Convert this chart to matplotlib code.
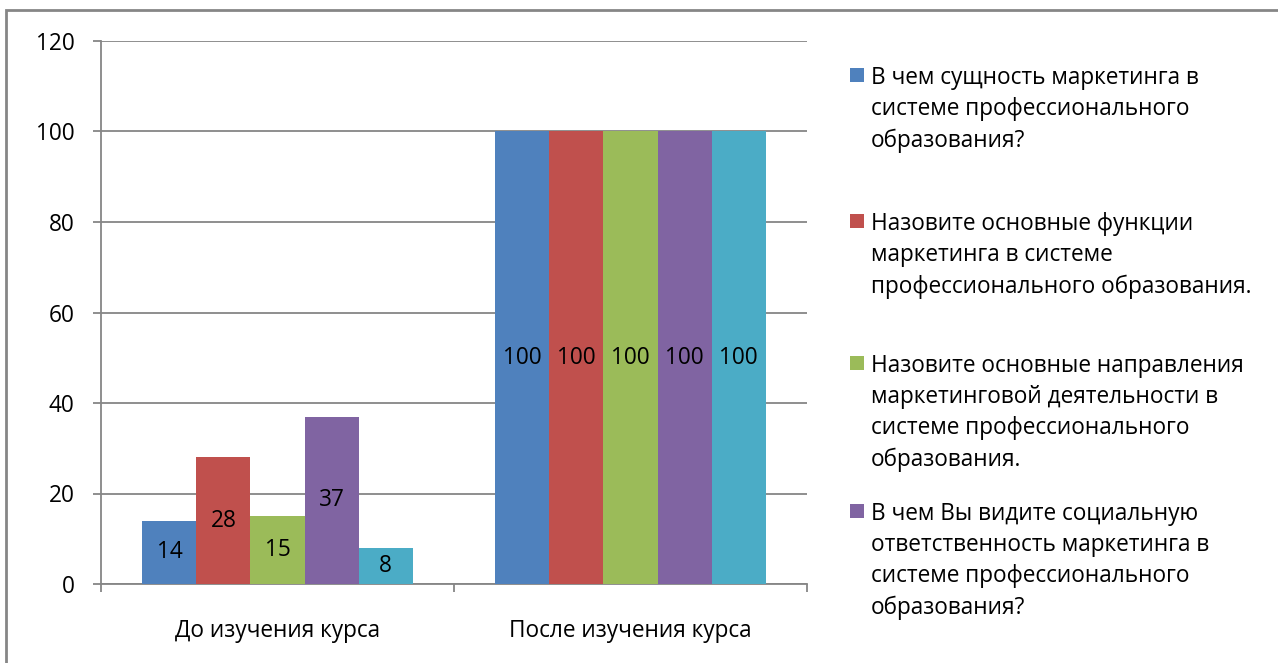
import numpy as np
import matplotlib.pyplot as plt
from matplotlib.patches import Rectangle

plt.rcParams['font.family'] = ['Open Sans', 'DejaVu Sans']

# Chart data
categories = ['До изучения курса', 'После изучения курса']
series_names = [
    'В чем сущность маркетинга в\nсистеме профессионального\nобразования?',
    'Назовите основные функции\nмаркетинга в системе\nпрофессионального образования.',
    'Назовите основные направления\nмаркетинговой деятельности в\nсистеме профессионального\nобразования.',
    'В чем Вы видите социальную\nответственность маркетинга в\nсистеме профессионального\nобразования?',
    '',  # fifth series: legend entry is cut off in the original
]
values = [
    [14, 100],
    [28, 100],
    [15, 100],
    [37, 100],
    [8, 100],
]
colors = ['#4F81BD', '#C0504D', '#9BBB59', '#8064A2', '#4BACC6']
y_ticks = [0, 20, 40, 60, 80, 100, 120]

FS = 16.3
W, H = 1278, 663
fig = plt.figure(figsize=(W / 100, H / 100), dpi=100)

# outer chart border
fig.patches.append(Rectangle((6 / W, -0.05), 1.2, (H - 10) / H + 0.05,
                             transform=fig.transFigure, fill=False,
                             edgecolor='#868686', linewidth=2))

ax = fig.add_axes([101 / W, (H - 584) / H, (807 - 101) / W, (584 - 41) / H])

n = len(values)
bar_w = 0.153
x = np.arange(len(categories))
for i, (vals, col) in enumerate(zip(values, colors)):
    offs = (i - (n - 1) / 2) * bar_w
    bars = ax.bar(x + offs, vals, width=bar_w, color=col, zorder=3)
    for b, v in zip(bars, vals):
        ax.text(b.get_x() + b.get_width() / 2, v / 2, str(v),
                ha='center', va='center', fontsize=FS, color='black', zorder=4)

ax.set_xlim(-0.5, len(categories) - 0.5)
ax.set_ylim(0, 120)
ax.set_yticks(y_ticks)
ax.set_yticklabels([str(t) for t in y_ticks], fontsize=FS)
ax.yaxis.grid(True, color='#868686', linewidth=1.3, zorder=0)
ax.tick_params(axis='y', length=6, width=1.3, color='#868686', pad=13)

ax.set_xticks(x)
ax.set_xticklabels(categories, fontsize=FS)
ax.set_xticks([-0.5, 0.5, 1.5], minor=True)
ax.tick_params(axis='x', which='major', length=0, pad=25)
ax.tick_params(axis='x', which='minor', length=6, width=1.3, color='#868686')

for s in ['top', 'right']:
    ax.spines[s].set_visible(False)
for s in ['left', 'bottom']:
    ax.spines[s].set_color('#868686')
    ax.spines[s].set_linewidth(1.3)

# legend (first four entries visible, as in the original)
legend_mids = [75, 221, 363, 511]
for name, col, ymid in zip(series_names[:4], colors[:4], legend_mids):
    fig.patches.append(Rectangle((850 / W, (H - ymid - 7) / H), 14 / W, 14 / H,
                                 transform=fig.transFigure, facecolor=col,
                                 edgecolor='none'))
    fig.text(871 / W, (H - ymid + 9) / H, name, ha='left', va='top',
             fontsize=FS, linespacing=1.4)

fig.savefig('out.png', dpi=100)
